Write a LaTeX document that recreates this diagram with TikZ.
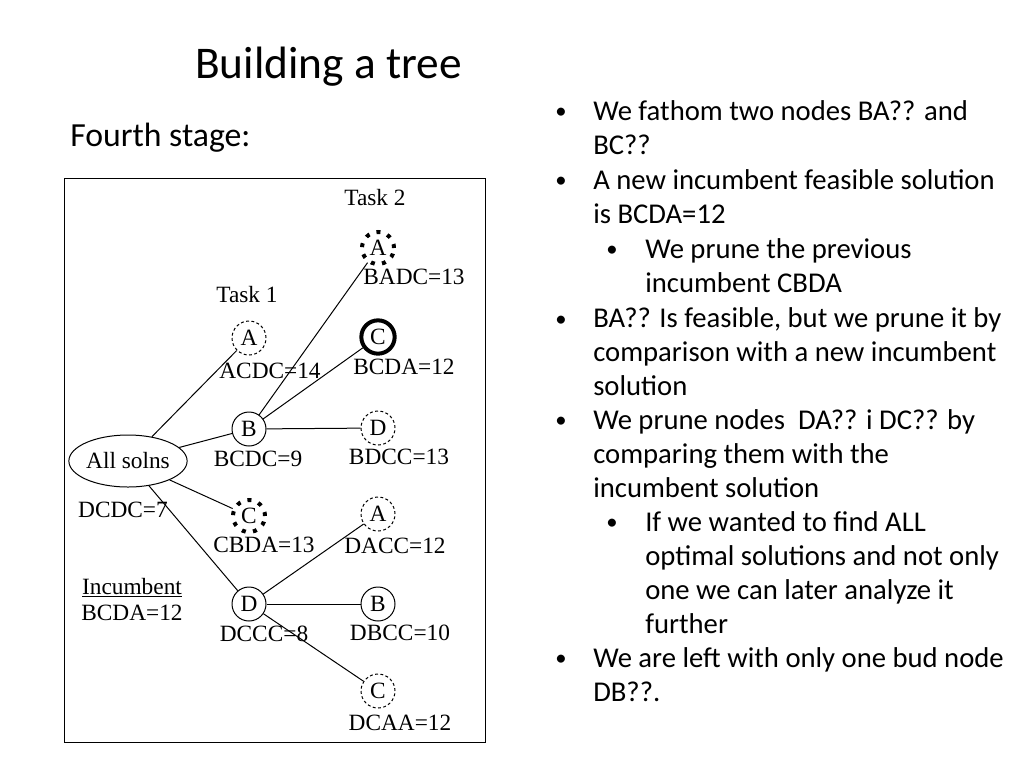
\documentclass[tikz,border=0pt]{standalone}
\usepackage{fontspec}
\setmainfont{Carlito}
\newfontfamily\tms{Liberation Serif}
\usetikzlibrary{shapes.geometric}
\begin{document}
\begin{tikzpicture}[x=0.75pt,y=-0.75pt,
  tnode/.style={circle,draw,line width=0.75pt,minimum size=25.5pt,inner sep=0pt,font=\tms\fontsize{17.5}{19}\selectfont},
  pruned/.style={tnode,dash pattern=on 2.2pt off 1.8pt},
  fathom/.style={tnode,line width=3pt,dash pattern=on 3pt off 5.5pt,minimum size=24pt},
  best/.style={tnode,line width=3pt,minimum size=25pt},
  lbl/.style={font=\tms\fontsize{17.5}{19}\selectfont,inner sep=0pt},
  edge/.style={line width=0.75pt},
  bul/.style={anchor=base west,inner sep=0pt,align=left,font=\fontsize{21.5}{25.5}\selectfont},
  dot/.style={anchor=base west,inner sep=0pt,font=\fontsize{17}{20}\selectfont}]
\useasboundingbox (0,0) rectangle (1024,768);
\fill[white] (0,0) rectangle (1024,768);

% titles
\node[anchor=base west,inner sep=0pt,font=\fontsize{34}{40}\selectfont] (title) at (195,78) {Building a tree};
\node[anchor=base west,inner sep=0pt,font=\fontsize{25.3}{30}\selectfont] (stage) at (70,146) {Fourth stage:};

% frame
\draw[line width=0.75pt] (64,178) rectangle (485,742);

% tree nodes
\node[ellipse,draw,line width=0.75pt,minimum width=76.5pt,minimum height=39pt,inner sep=0pt,font=\tms\fontsize{17.5}{19}\selectfont] (all) at (128,461) {All solns};
\node[pruned] (a1) at (249,338) {A};
\node[tnode]  (b1) at (249,429) {B};
\node[fathom] (c1) at (249,516) {C};
\node[tnode]  (d1) at (249,604) {D};
\node[fathom] (ba) at (378,248) {A};
\node[best]   (bc) at (378,337) {C};
\node[pruned] (bd) at (378,428) {D};
\node[pruned] (da) at (378,514) {A};
\node[tnode]  (db) at (378,604) {B};
\node[pruned] (dc) at (378,691) {C};

% edges
\draw[edge] (all) -- (a1);
\draw[edge] (all) -- (b1);
\draw[edge] (all) -- (c1);
\draw[edge] (all) -- (d1);
\draw[edge] (b1) -- (ba);
\draw[edge] (b1) -- (bc);
\draw[edge] (b1) -- (bd);
\draw[edge] (d1) -- (da);
\draw[edge] (d1) -- (db);
\draw[edge] (d1) -- (dc);

% labels
\node[lbl] (t2) at (375,198) {Task 2};
\node[lbl] (t1) at (247,295) {Task 1};
\node[lbl] (l1) at (414,277) {BADC=13};
\node[lbl] (l2) at (270,371) {ACDC=14};
\node[lbl] (l3) at (404,367) {BCDA=12};
\node[lbl] (l4) at (258,459) {BCDC=9};
\node[lbl] (l5) at (399,457) {BDCC=13};
\node[lbl] (l6) at (123,510) {DCDC=7};
\node[lbl] (l7) at (264,545) {CBDA=13};
\node[lbl] (l8) at (395,546) {DACC=12};
\node[lbl] (l9) at (132,588) {\underline{Incumbent}};
\node[lbl] (l10) at (132,613) {BCDA=12};
\node[lbl] (l11) at (264,634) {DCCC=8};
\node[lbl] (l12) at (400,633) {DBCC=10};
\node[lbl] (l13) at (400,723) {DCAA=12};

% bullets (anchor = baseline of last line)
\node[dot] (d1b) at (555,118) {•};
\node[bul] (p1) at (593,154) {We fathom two nodes BA?? and\\BC??};
\node[dot] (d2b) at (555,187) {•};
\node[bul] (p2) at (593,223) {A new incumbent feasible solution\\is BCDA=12};
\node[dot] (d3b) at (606,256) {•};
\node[bul] (p3) at (645,292) {We prune the previous\\incumbent CBDA};
\node[dot] (d4b) at (555,326) {•};
\node[bul] (p4) at (593,395) {BA?? Is feasible, but we prune it by\\comparison with a new incumbent\\solution};
\node[dot] (d5b) at (555,427) {•};
\node[bul] (p5) at (593,497) {We prune nodes\ \ DA?? i DC?? by\\comparing them with the\\incumbent solution};
\node[dot] (d6b) at (606,529) {•};
\node[bul] (p6) at (645,633) {If we wanted to find ALL\\optimal solutions and not only\\one we can later analyze it\\further};
\node[dot] (d7b) at (555,665) {•};
\node[bul] (p7) at (593,701) {We are left with only one bud node\\DB??.};
\end{tikzpicture}
\end{document}
